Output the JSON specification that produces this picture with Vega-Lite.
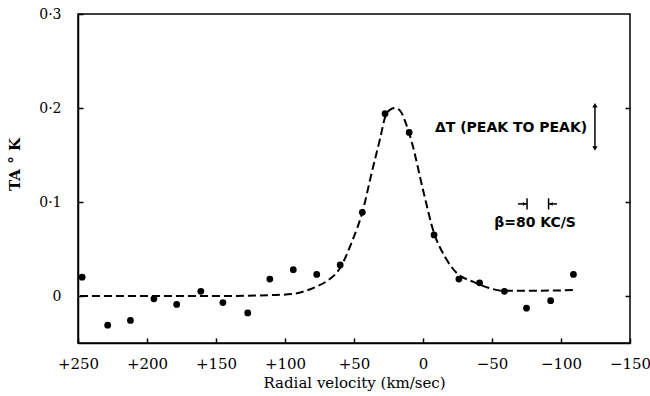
{
  "$schema": "https://vega.github.io/schema/vega-lite/v6.json",
  "width": 552,
  "height": 329,
  "autosize": {"type": "none"},
  "padding": {"left": 78, "top": 14, "right": 20, "bottom": 53},
  "background": "white",
  "config": {
    "view": {"stroke": "black", "strokeWidth": 1.5},
    "font": "DejaVu Serif",
    "axis": {"labelColor": "black", "titleColor": "black", "domainColor": "black", "tickColor": "black", "grid": false}
  },
  "datasets": {
    "curve": [
      {"v": 248.6, "t": 0.0}, {"v": 200, "t": 0.0}, {"v": 150, "t": 0.0}, {"v": 110, "t": 0.001},
      {"v": 95, "t": 0.002}, {"v": 86, "t": 0.005}, {"v": 78, "t": 0.0095}, {"v": 70, "t": 0.0155}, {"v": 60, "t": 0.03},
      {"v": 51.7, "t": 0.057}, {"v": 43.5, "t": 0.0915}, {"v": 37.2, "t": 0.131}, {"v": 31, "t": 0.168},
      {"v": 27.5, "t": 0.19}, {"v": 24, "t": 0.198}, {"v": 20.3, "t": 0.2}, {"v": 16.5, "t": 0.197},
      {"v": 13, "t": 0.186}, {"v": 8.2, "t": 0.164}, {"v": 0, "t": 0.113}, {"v": -8, "t": 0.067},
      {"v": -16, "t": 0.0415}, {"v": -24.4, "t": 0.0245}, {"v": -36.2, "t": 0.0152}, {"v": -48.6, "t": 0.0082},
      {"v": -58, "t": 0.0056}, {"v": -80, "t": 0.0056}, {"v": -111.5, "t": 0.0064}
    ],
    "obs": [
      {"v": 247, "t": 0.020}, {"v": 228.5, "t": -0.031}, {"v": 212, "t": -0.026}, {"v": 195, "t": -0.003},
      {"v": 178.5, "t": -0.009}, {"v": 161, "t": 0.005}, {"v": 145, "t": -0.007}, {"v": 127, "t": -0.018},
      {"v": 111, "t": 0.018}, {"v": 94, "t": 0.028}, {"v": 77, "t": 0.023}, {"v": 60, "t": 0.033},
      {"v": 44, "t": 0.089}, {"v": 27.5, "t": 0.194}, {"v": 10, "t": 0.174}, {"v": -8, "t": 0.065},
      {"v": -26, "t": 0.018}, {"v": -41, "t": 0.014}, {"v": -59, "t": 0.005}, {"v": -75, "t": -0.013},
      {"v": -92.5, "t": -0.005}, {"v": -109, "t": 0.023}
    ],
    "rules": [
      {"v": -124.6, "t": 0.157, "v2": -124.6, "t2": 0.203},
      {"v": -75.4, "t": 0.092, "v2": -75.4, "t2": 0.104},
      {"v": -91, "t": 0.092, "v2": -91, "t2": 0.104},
      {"v": -68.8, "t": 0.098, "v2": -75.4, "t2": 0.098},
      {"v": -91, "t": 0.098, "v2": -97.1, "t2": 0.098}
    ],
    "heads": [
      {"v": -124.6, "t": 0.203, "shape": "triangle-up", "s": 28},
      {"v": -124.6, "t": 0.157, "shape": "triangle-down", "s": 28},
      {"v": -73.6, "t": 0.098, "shape": "triangle-right", "s": 14},
      {"v": -92.8, "t": 0.098, "shape": "triangle-left", "s": 14}
    ],
    "labels": [
      {"v": -63.8, "t": 0.1787, "text": "ΔT (PEAK TO PEAK)"},
      {"v": -81.2, "t": 0.0777, "text": "β=80 KC/S"}
    ]
  },
  "resolve": {"axis": {"y": "independent"}},
  "layer": [
    {
      "data": {"name": "curve"},
      "mark": {"type": "line", "interpolate": "monotone", "color": "black", "strokeWidth": 2, "strokeDash": [8, 4]},
      "encoding": {
        "x": {
          "field": "v", "type": "quantitative",
          "scale": {"domain": [-150, 250], "reverse": true, "nice": false, "zero": false},
          "axis": {
            "values": [250, 200, 150, 100, 50, 0, -50, -100, -150],
            "labelExpr": "datum.value > 0 ? '+' + datum.value : (datum.value < 0 ? '−' + abs(datum.value) : '0')",
            "labelFlush": false,
            "tickSize": -5, "tickWidth": 1.5, "domainWidth": 1.5,
            "labelPadding": 18, "labelFontSize": 15, "labelFont": "DejaVu Serif",
            "title": "Radial velocity (km/sec)", "titleFontSize": 15, "titleFontWeight": "normal",
            "titleFont": "DejaVu Serif", "titlePadding": 4
          }
        },
        "y": {
          "field": "t", "type": "quantitative",
          "scale": {"domain": [-0.05, 0.3], "nice": false, "zero": false},
          "axis": {
            "values": [0, 0.1, 0.2, 0.3],
            "labelExpr": "datum.value == 0 ? '0' : replace(format(datum.value, '.1f'), '.', '·')",
            "labelFlush": false,
            "tickSize": -5, "tickWidth": 1.5, "domainWidth": 1.5,
            "labelPadding": 22, "labelFontSize": 14, "labelFont": "DejaVu Serif",
            "title": "TA ° K", "titleFontSize": 15, "titleFontWeight": "bold",
            "titleFont": "DejaVu Serif", "titleX": -56, "titleY": 150, "titleAngle": -90
          }
        }
      }
    },
    {
      "data": {"name": "obs"},
      "mark": {"type": "point", "filled": true, "color": "black", "size": 46, "opacity": 1},
      "encoding": {
        "x": {"field": "v", "type": "quantitative"},
        "y": {
          "field": "t", "type": "quantitative",
          "axis": {"orient": "right", "values": [0, 0.1, 0.2], "labels": false, "title": null, "tickSize": -5, "tickWidth": 1.5, "domain": false}
        }
      }
    },
    {
      "data": {"name": "rules"},
      "mark": {"type": "rule", "color": "black", "strokeWidth": 1.5},
      "encoding": {
        "x": {"field": "v", "type": "quantitative"},
        "x2": {"field": "v2"},
        "y": {"field": "t", "type": "quantitative", "axis": null},
        "y2": {"field": "t2"}
      }
    },
    {
      "data": {"name": "heads"},
      "mark": {"type": "point", "filled": true, "color": "black", "opacity": 1},
      "encoding": {
        "x": {"field": "v", "type": "quantitative"},
        "y": {"field": "t", "type": "quantitative", "axis": null},
        "shape": {"field": "shape", "type": "nominal", "scale": null},
        "size": {"field": "s", "type": "quantitative", "scale": null}
      }
    },
    {
      "data": {"name": "labels"},
      "mark": {"type": "text", "font": "DejaVu Sans", "fontSize": 14, "fontWeight": "bold", "color": "black", "align": "center", "baseline": "middle"},
      "encoding": {
        "x": {"field": "v", "type": "quantitative"},
        "y": {"field": "t", "type": "quantitative", "axis": null},
        "text": {"field": "text"}
      }
    }
  ]
}
